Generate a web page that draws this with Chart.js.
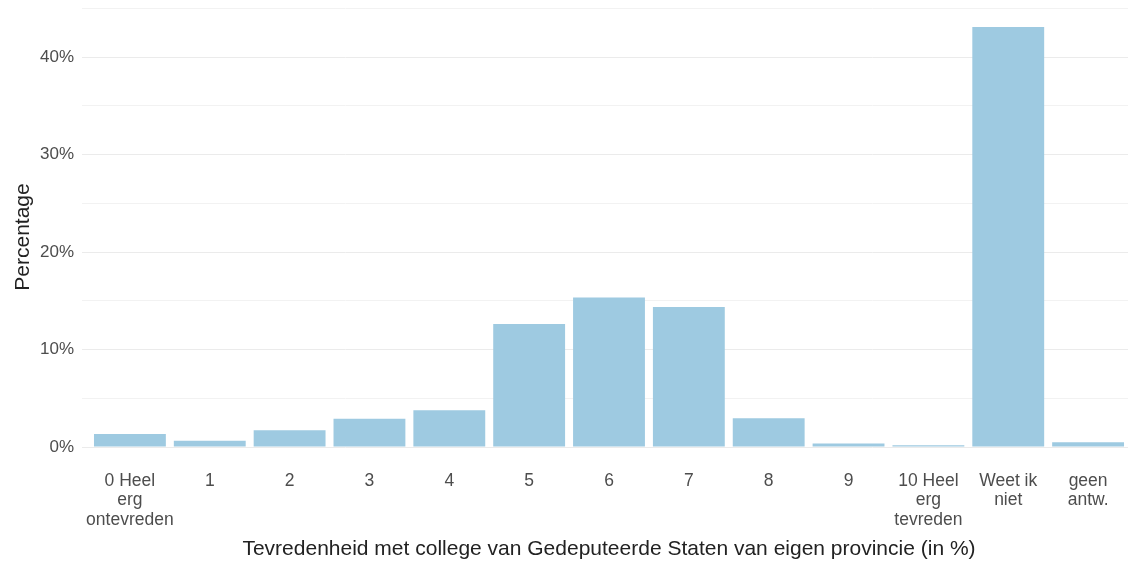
<!DOCTYPE html>
<html>
<head>
<meta charset="utf-8">
<script src="https://cdn.jsdelivr.net/npm/chart.js@4/dist/chart.umd.min.js"></script>
<style>
  html, body { margin: 0; padding: 0; background: #fff; overflow: hidden; }
  #wrap { width: 1136px; height: 561px; }
</style>
</head>
<body>
<div id="wrap"><canvas id="c" width="1136" height="561"></canvas></div>
<script>
// Answer categories (multi-line labels)
const categories = [
  ["0 Heel", "erg", "ontevreden"],
  ["1"], ["2"], ["3"], ["4"], ["5"], ["6"], ["7"], ["8"], ["9"],
  ["10 Heel", "erg", "tevreden"],
  ["Weet ik", "niet"],
  ["geen", "antw."]
];
// Share of respondents per answer (%)
const percentages = [1.33, 0.65, 1.71, 2.89, 3.76, 12.63, 15.35, 14.37, 2.94, 0.35, 0.17, 43.1, 0.48];
// Gridline positions (%) ; labelled every 10
const yGridValues = [0, 5, 10, 15, 20, 25, 30, 35, 40, 45];

const FONT = '"Liberation Sans", Arial, Helvetica, sans-serif';

new Chart(document.getElementById('c'), {
  type: 'bar',
  data: {
    datasets: [{
      data: percentages.map((v, i) => ({ x: i, y: v })),
      backgroundColor: '#9ecae1',
      borderWidth: 0,
      barPercentage: 0.9,
      categoryPercentage: 1.0
    }]
  },
  options: {
    responsive: false,
    animation: false,
    devicePixelRatio: 1,
    layout: { padding: { top: 6, right: 0, left: 0, bottom: 0 } },
    plugins: { legend: { display: false }, tooltip: { enabled: false } },
    scales: {
      x: {
        type: 'linear',
        offset: false,
        min: -0.6,
        max: categories.length - 1 + 0.6,
        grid: { display: false, offset: false, drawTicks: false },
        border: { display: false },
        afterBuildTicks: (s) => { s.ticks = categories.map((_, i) => ({ value: i })); },
        afterFit: (s) => { s.height = 93; s.paddingLeft = 0; s.paddingRight = 0; },
        ticks: {
          autoSkip: false,
          maxRotation: 0,
          padding: 3,
          color: '#4d4d4d',
          font: { family: FONT, size: 17.5, lineHeight: '19.5px' },
          callback: (v) => categories[v]
        },
        title: {
          display: true,
          text: 'Tevredenheid met college van Gedeputeerde Staten van eigen provincie (in %)',
          color: '#222',
          font: { family: FONT, size: 21 },
          padding: { top: 0, bottom: -1 }
        }
      },
      y: {
        min: -2.155,
        max: 45.255,
        grid: {
          drawTicks: false,
          color: (ctx) => (ctx.tick && ctx.tick.value % 10 === 0) ? '#ebebeb' : '#f2f2f2',
          lineWidth: 1
        },
        border: { display: false },
        afterBuildTicks: (s) => { s.ticks = yGridValues.map(v => ({ value: v })); },
        afterFit: (s) => { s.width = 82; s.paddingTop = 0; s.paddingBottom = 0; },
        ticks: {
          padding: 8,
          color: '#4d4d4d',
          font: { family: FONT, size: 17 },
          callback: (v) => (v % 10 === 0 ? v + '%' : '')
        },
        title: {
          display: true,
          text: 'Percentage',
          color: '#222',
          font: { family: FONT, size: 21 },
          padding: { top: 11, bottom: 0 }
        }
      }
    }
  }
});
</script>
</body>
</html>
